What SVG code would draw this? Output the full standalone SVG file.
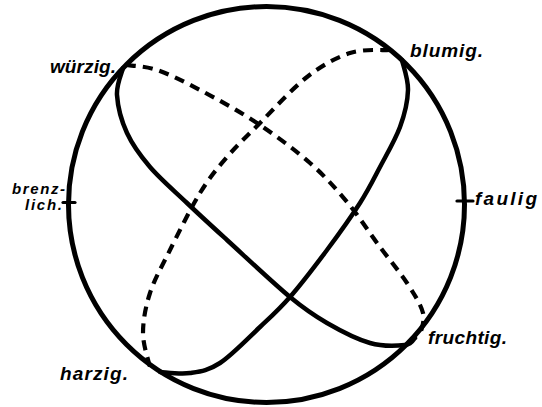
<svg xmlns="http://www.w3.org/2000/svg" width="542" height="407" viewBox="0 0 542 407">
  <style>
    .ln { fill: none; stroke: #000; stroke-linecap: round; stroke-linejoin: round; }
    .sphere { stroke-width: 5; }
    .solid { stroke-width: 4.5; }
    .dash { stroke-width: 4.2; stroke-dasharray: 10 7; stroke-linecap: butt; }
    .tick { stroke-width: 3.2; }
    .lbl { font-family: "Liberation Sans", Arial, sans-serif; font-weight: bold; font-style: italic; font-size: 19px; fill: #000; }
    .small { font-size: 15px; }
  </style>
  <rect width="542" height="407" fill="#fff"/>
  <g id="sphere">
    <circle class="ln sphere" cx="266.5" cy="204.5" r="198"/>
  </g>
  <g id="connectors">
    <path id="circle1-front" class="ln solid" d="M123,68 C122,72.5 116.3,84.2 117,95 C117.7,105.8 121.5,121 127,133 C132.5,145 140,155.3 150,167 C160,178.7 174.2,190.8 187,203 C199.8,215.2 209.8,224.3 227,240 C244.2,255.7 273.3,283.2 290,297 C306.7,310.8 313.7,315.3 327,323 C340.3,330.7 357,339.3 370,343 C383,346.7 397.5,345.8 405,345 C412.5,344.2 413.3,339.2 415,338"/>
    <path id="circle1-back" class="ln dash" d="M126,65 C131.2,65.8 144.7,65.8 157,70 C169.3,74.2 183.3,81.2 200,90 C216.7,98.8 238.7,110.8 257,123 C275.3,135.2 295,149.8 310,163 C325,176.2 335.3,188 347,202 C358.7,216 370,233.5 380,247 C390,260.5 399.8,272 407,283 C414.2,294 420.8,304.3 423,313 C425.2,321.7 420.5,331.3 420,335"/>
    <path id="circle2-front" class="ln solid" d="M402,60 C403,65 408.3,78.8 408,90 C407.7,101.2 404.7,114.2 400,127 C395.3,139.8 386.7,154.3 380,167 C373.3,179.7 368.8,189.2 360,203 C351.2,216.8 338.7,234.3 327,250 C315.3,265.7 301.2,284.2 290,297 C278.8,309.8 271.7,316 260,327 C248.3,338 231.7,355.3 220,363 C208.3,370.7 200,371.5 190,373 C180,374.5 165,372.2 160,372"/>
    <path id="circle2-back" class="ln dash" d="M390,50 C383.3,50.5 363.8,48.5 350,53 C336.2,57.5 322,65.3 307,77 C292,88.7 273.3,109.7 260,123 C246.7,136.3 237,145.3 227,157 C217,168.7 209.5,177.5 200,193 C190.5,208.5 178.3,233.3 170,250 C161.7,266.7 154.5,279.2 150,293 C145.5,306.8 143,320.7 143,333 C143,345.3 148.8,361.3 150,367"/>
    <line class="ln tick" x1="63" y1="202.5" x2="75" y2="202.5"/>
    <line class="ln tick" x1="457" y1="201" x2="473" y2="201"/>
  </g>
  <g id="wuerzig"><text class="lbl" x="50" y="73" textLength="66" lengthAdjust="spacing">würzig.</text></g>
  <g id="blumig"><text class="lbl" x="410" y="57" textLength="73" lengthAdjust="spacing">blumig.</text></g>
  <g id="brenzlich">
    <text class="lbl small" x="12" y="194" textLength="53" lengthAdjust="spacing">brenz-</text>
    <text class="lbl small" x="25" y="210" textLength="37" lengthAdjust="spacing">lich.</text>
  </g>
  <g id="faulig"><text class="lbl" x="475" y="205" textLength="62" lengthAdjust="spacing">faulig</text></g>
  <g id="fruchtig"><text class="lbl" x="428" y="344" textLength="79" lengthAdjust="spacing">fruchtig.</text></g>
  <g id="harzig"><text class="lbl" x="60" y="380" textLength="68" lengthAdjust="spacing">harzig.</text></g>
</svg>
